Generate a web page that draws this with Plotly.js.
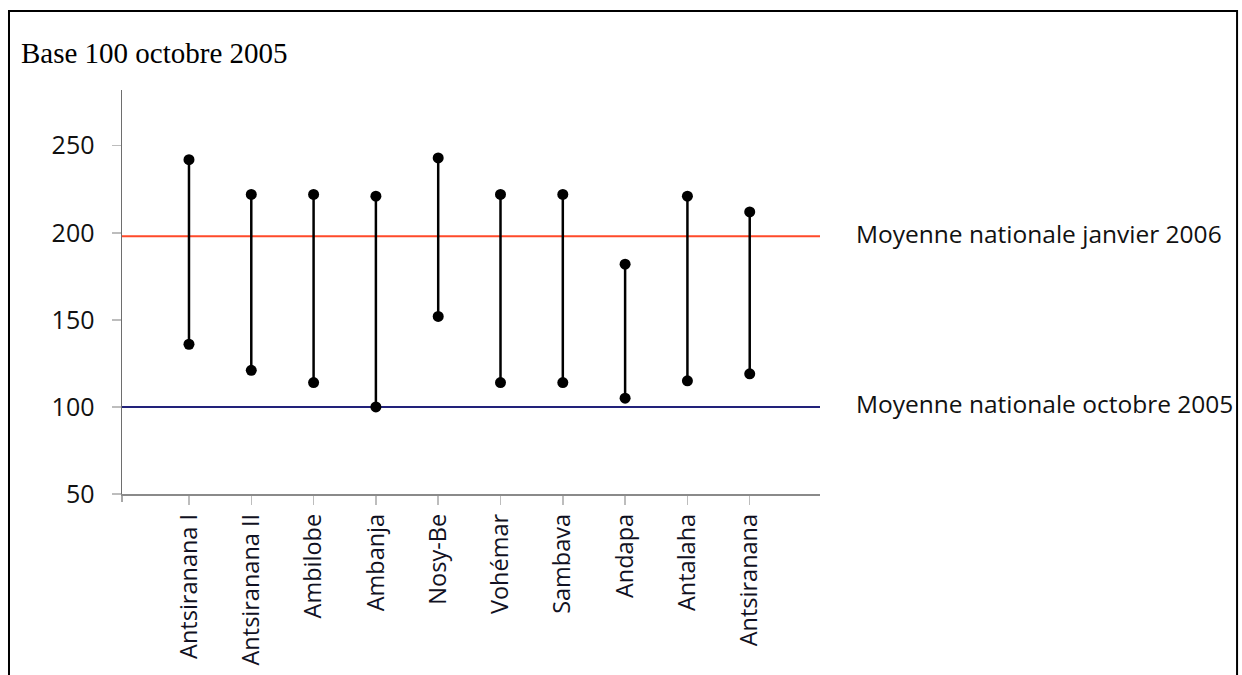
<!DOCTYPE html>
<html>
<head>
<meta charset="utf-8">
<script src="https://cdn.plot.ly/plotly-3.0.1.min.js"></script>
<style>
  html, body { margin: 0; padding: 0; background: #ffffff; }
  #chart { width: 1242px; height: 675px; }
</style>
</head>
<body>
<div id="chart"></div>
<script>
// ---- Data ----
const districts = ["Antsiranana I", "Antsiranana II", "Ambilobe", "Ambanja", "Nosy-Be",
                   "Vohémar", "Sambava", "Andapa", "Antalaha", "Antsiranana"];
const indiceOctobre2005 = [136, 121, 114, 100, 152, 114, 114, 105, 115, 119];
const indiceJanvier2006 = [242, 222, 222, 221, 243, 222, 222, 182, 221, 212];
const moyenneLabels = ["Moyenne nationale janvier 2006", "Moyenne nationale octobre 2005"];
const moyenneValues = [198, 100];
const moyenneColors = ["#ff4a2a", "#22227a"];
const yTickVals = [50, 100, 150, 200, 250];
const titleText = "Base 100 octobre 2005";

// ---- Build dumbbell trace ----
const xs = [], ys = [];
districts.forEach((d, i) => {
  xs.push(d, d, null);
  ys.push(indiceOctobre2005[i], indiceJanvier2006[i], null);
});

const sansFont = "'Open Sans', 'Noto Sans', 'DejaVu Sans', sans-serif";

const traces = [{
  type: "scatter",
  mode: "lines+markers",
  x: xs,
  y: ys,
  connectgaps: false,
  line: { color: "#000000", width: 2.5 },
  marker: { color: "#000000", size: 11 },
  hoverinfo: "x+y",
  showlegend: false
}];

const shapes = moyenneValues.map((v, i) => ({
  type: "line", xref: "paper", yref: "y",
  x0: 0, x1: 1, y0: v, y1: v,
  line: { color: moyenneColors[i], width: 2 },
  layer: "below"
}));
// small extension of the y axis below the x axis
shapes.push({
  type: "line", xref: "paper", yref: "paper",
  x0: 0, x1: 0, y0: 0, y1: -0.02,
  line: { color: "#8a8a8a", width: 1.5 }
});
// Outer frame
shapes.push({
  type: "rect", xref: "paper", yref: "paper",
  x0: -0.1619, x1: 1.5975, y0: -0.6, y1: 1.1955,
  line: { color: "#000000", width: 2 },
  fillcolor: "rgba(0,0,0,0)"
});

const annotations = moyenneValues.map((v, i) => ({
  xref: "paper", yref: "y",
  x: 1.048, y: v, xanchor: "left", yanchor: "middle",
  yshift: 3,
  text: moyenneLabels[i],
  showarrow: false,
  font: { family: sansFont, size: 24.5, color: "#111111" }
}));

const layout = {
  width: 1242, height: 675,
  margin: { l: 122, r: 422, t: 90, b: 181 },
  paper_bgcolor: "#ffffff",
  plot_bgcolor: "#ffffff",
  title: {
    text: titleText,
    xref: "container", yref: "container",
    x: 21 / 1242, xanchor: "left",
    y: 1 - 53 / 675, yanchor: "middle",
    font: { family: "'Liberation Serif', 'Times New Roman', serif", size: 29, color: "#000000" }
  },
  xaxis: {
    type: "category",
    categoryorder: "array",
    categoryarray: districts,
    range: [-1.075, 10.128],
    showgrid: false, zeroline: false,
    showline: true, linecolor: "#8a8a8a", linewidth: 1.5,
    ticks: "outside", ticklen: 9, tickcolor: "#bdbdbd", tickwidth: 1.5,
    tickangle: -90,
    tickfont: { family: sansFont, size: 23.5, color: "#111122" },
    fixedrange: true
  },
  yaxis: {
    range: [50, 282],
    tickvals: yTickVals,
    showgrid: false, zeroline: false,
    showline: true, linecolor: "#6e6e6e", linewidth: 1.5,
    ticks: "outside", ticklen: 9, tickcolor: "#bdbdbd", tickwidth: 1.5,
    ticklabelstandoff: 12,
    tickfont: { family: sansFont, size: 25, color: "#111111" },
    fixedrange: true
  },
  shapes: shapes,
  annotations: annotations,
  showlegend: false
};

Plotly.newPlot("chart", traces, layout, { displayModeBar: false, staticPlot: true });
</script>
</body>
</html>
